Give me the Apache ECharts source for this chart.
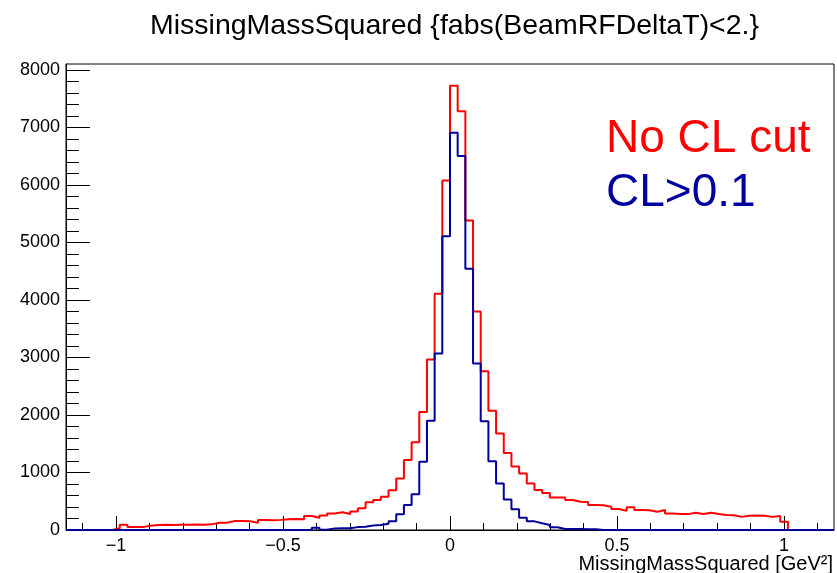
<!DOCTYPE html>
<html>
<head>
<meta charset="utf-8">
<script src="https://cdn.jsdelivr.net/npm/echarts@6/dist/echarts.min.js"></script>
<style>html,body{margin:0;padding:0;background:#fff}#c{width:837px;height:573px}</style>
</head>
<body>
<div id="c"></div>
<script>
// Histogram binning: 100 bins from -1.15 to 1.15
const binLow = -1.15;
const binWidth = 0.023;
const redCounts = [
  0,0,0,0,0,0,30,90,50,50,
  75,85,90,88,92,90,95,93,98,125,
  128,155,158,152,125,172,170,176,186,190,
  188,245,212,250,285,310,278,320,377,481,
  520,579,690,897,1215,1525,2050,2962,4107,6074,
  7722,7277,5380,3800,2759,2071,1678,1340,1105,980,
  810,694,645,567,565,520,491,488,434,432,
  405,364,335,395,347,345,318,347,285,280,
  276,300,278,300,278,262,258,228,248,250,
  246,228,245,145,0,0,0,0,0,0
];
const blueCounts = [
  0,0,0,0,0,0,0,0,0,0,
  0,0,0,0,0,0,0,0,0,0,
  0,0,0,0,0,0,0,0,0,0,
  0,0,40,5,28,30,32,50,55,80,
  85,108,150,272,434,620,1186,1897,3066,5108,
  6907,6502,4541,2893,1891,1197,810,532,359,215,
  150,116,87,47,17,17,17,15,15,0,
  0,0,0,0,0,0,0,0,0,0,
  0,0,0,0,0,0,0,0,0,0,
  0,0,0,0,0,0,0,0,0,0
];
const xMajorTicks = [-1, -0.5, 0, 0.5, 1];
const xMinorTicks = [-1.1,-0.9,-0.8,-0.7,-0.6,-0.4,-0.3,-0.2,-0.1,0.1,0.2,0.3,0.4,0.6,0.7,0.8,0.9,1.1];
const yMajorTicks = [0,1000,2000,3000,4000,5000,6000,7000,8000];
const yMinorTicks = [];
for (let m = 200; m < 8000; m += 200) if (m % 1000 !== 0) yMinorTicks.push(m);

function stepPoints(counts) {
  const pts = [];
  for (let k = 0; k < counts.length; k++) {
    const lo = +(binLow + binWidth * k).toFixed(4);
    const hi = +(binLow + binWidth * (k + 1)).toFixed(4);
    pts.push([lo, counts[k]], [hi, counts[k]]);
  }
  return pts;
}

const chart = echarts.init(document.getElementById('c'), null, {renderer: 'canvas'});
const FONT = 'Liberation Sans, Arial, Helvetica, sans-serif';
const fmtX = v => v < 0 ? '\u2212' + Math.abs(v) : String(v);
const fmtY = v => String(v);

chart.setOption({
  animation: false,
  backgroundColor: '#fff',
  title: {
    text: 'MissingMassSquared {fabs(BeamRFDeltaT)<2.}',
    left: 145, top: 7,
    textStyle: {fontFamily: FONT, fontSize: 28.5, fontWeight: 'normal', color: '#000'}
  },
  grid: {left: 66, right: 3, top: 64, bottom: 43, show: true, borderColor: '#000', borderWidth: 1, backgroundColor: 'transparent'},
  xAxis: [
    {
      type: 'value', min: -1.15, max: 1.15, position: 'bottom',
      axisLine: {show: true, onZero: false, lineStyle: {color: '#000', width: 1}},
      axisTick: {show: true, inside: true, length: 14, customValues: xMajorTicks, lineStyle: {color: '#000', width: 1}},
      axisLabel: {show: true, customValues: xMajorTicks, formatter: fmtX, margin: 7, color: '#000', fontFamily: FONT, fontSize: 18},
      splitLine: {show: false}
    },
    {
      type: 'value', min: -1.15, max: 1.15, position: 'bottom',
      axisLine: {show: false, onZero: false},
      axisTick: {show: true, inside: true, length: 7, customValues: xMinorTicks, lineStyle: {color: '#000', width: 1}},
      axisLabel: {show: false},
      splitLine: {show: false}
    }
  ],
  yAxis: [
    {
      type: 'value', min: 0, max: 8100, interval: 1000, position: 'left',
      axisLine: {show: true, onZero: false, lineStyle: {color: '#000', width: 1}},
      axisTick: {show: true, inside: true, length: 24, customValues: yMajorTicks, lineStyle: {color: '#000', width: 1}},
      axisLabel: {show: true, customValues: yMajorTicks, formatter: fmtY, margin: 6, color: '#000', fontFamily: FONT, fontSize: 18},
      splitLine: {show: false}
    },
    {
      type: 'value', min: 0, max: 8100, position: 'left',
      axisLine: {show: false, onZero: false},
      axisTick: {show: true, inside: true, length: 13, customValues: yMinorTicks, lineStyle: {color: '#000', width: 1}},
      axisLabel: {show: false},
      splitLine: {show: false}
    }
  ],
  series: [
    {
      name: 'No CL cut', type: 'line', xAxisIndex: 0, yAxisIndex: 0,
      data: stepPoints(redCounts), showSymbol: false, symbol: 'none',
      lineStyle: {color: '#ff0000', width: 2}, z: 3
    },
    {
      name: 'CL>0.1', type: 'line', xAxisIndex: 0, yAxisIndex: 0,
      data: stepPoints(blueCounts), showSymbol: false, symbol: 'none',
      lineStyle: {color: '#000099', width: 2}, z: 4
    }
  ],
  graphic: [
    {type: 'text', right: 4, top: 554,
     style: {text: 'MissingMassSquared [GeV\u00B2]', font: '20px ' + FONT, fill: '#000'}},
    {type: 'text', x: 606, y: 139,
     style: {text: 'No CL cut', font: '46px ' + FONT, fill: '#ff0000', textVerticalAlign: 'middle', verticalAlign: 'middle'}},
    {type: 'text', x: 606, y: 193,
     style: {text: 'CL>0.1', font: '46px ' + FONT, fill: '#0000a0', textVerticalAlign: 'middle', verticalAlign: 'middle'}}
  ]
});
</script>
</body>
</html>
